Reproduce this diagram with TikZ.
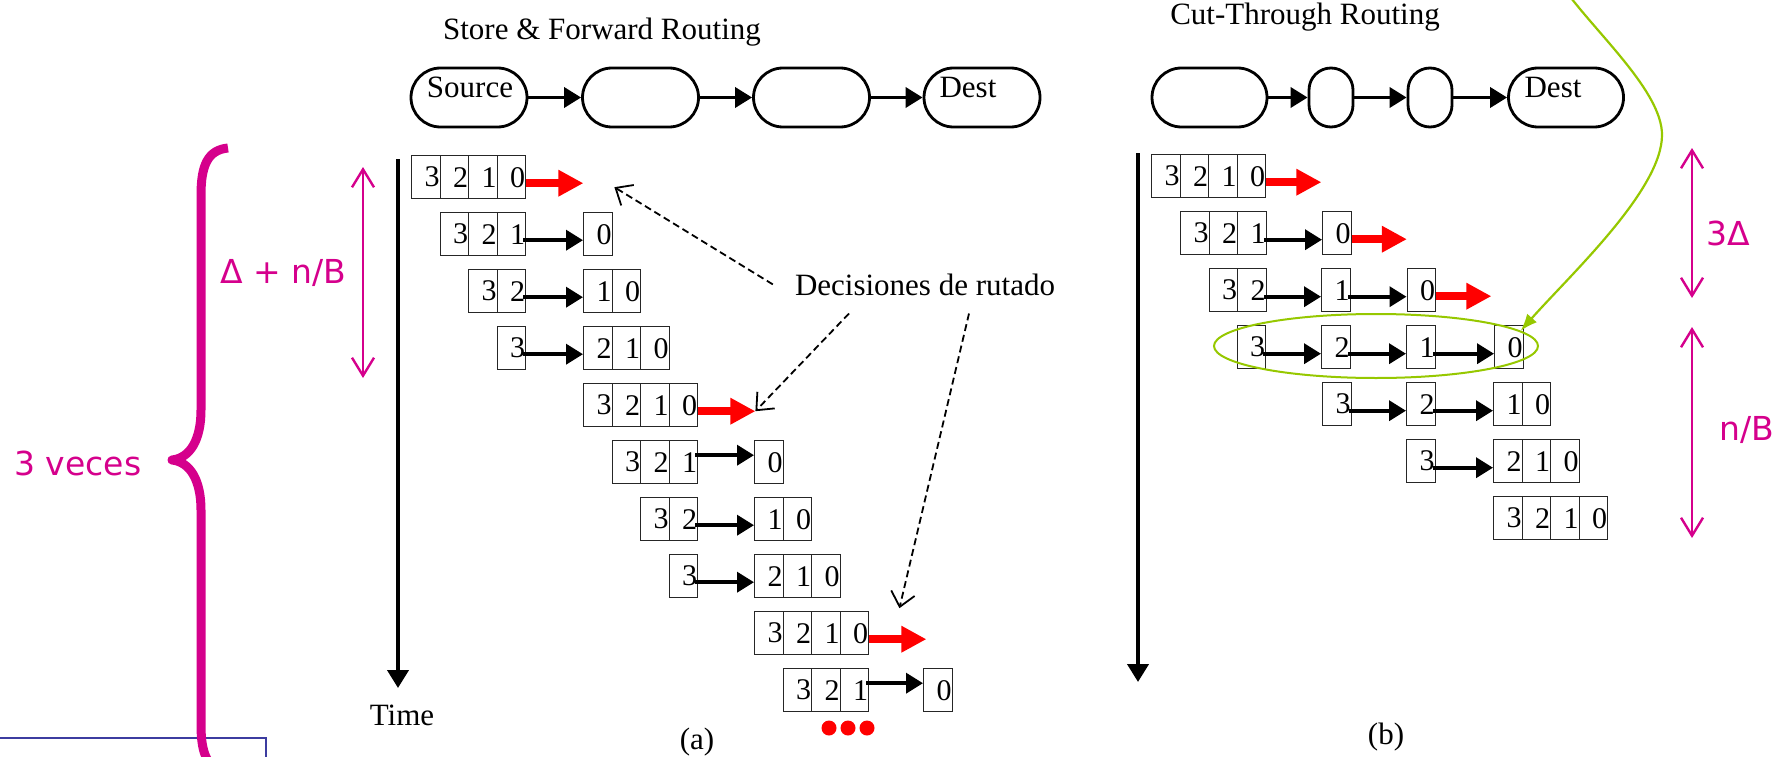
\documentclass[tikz,border=0pt]{standalone}
\usepackage{fontspec}
\setmainfont{Liberation Serif}
\newfontfamily\handfont{DejaVu Sans}
\usetikzlibrary{arrows.meta, calc, shapes.geometric}

\definecolor{brmag}{RGB}{213,0,140}
\definecolor{hlgreen}{RGB}{150,200,0}
\definecolor{boxblue}{RGB}{60,60,160}

\newcommand{\txtfont}{\fontsize{31}{37}\selectfont}
\newcommand{\digfont}{\fontsize{30}{36}\selectfont}
\newcommand{\hndfont}{\handfont\fontsize{33}{40}\selectfont}

% un trozo de paquete: nombre, x izquierda, y superior, digitos
\newcommand{\pkt}[4]{%
  \foreach \dg [count=\cn] in {#4}
    \node[cell] (#1-\cn) at ({#2+(\cn-1)*28.5},#3) {\dg};}

\begin{document}
\begin{tikzpicture}[x=1pt, y=-1pt,
  txt/.style={font=\txtfont, inner sep=2pt},
  hnd/.style={font=\hndfont, text=brmag, inner sep=2pt},
  cell/.style={draw=black!85, line width=1.4pt, minimum width=28.5pt, minimum height=43pt,
    inner sep=0pt, anchor=north west, text width=27.5pt, align=right, font=\digfont},
  stnode/.style={draw, line width=2.8pt, minimum width=116pt, minimum height=59pt,
    rounded corners=29.5pt, inner sep=0pt},
  smnode/.style={stnode, minimum width=44pt, rounded corners=22pt},
  blk/.style={line width=3.6pt, -{Triangle[length=17pt,width=20pt]}},
  redarr/.style={red, line width=8pt, -{Triangle[length=25pt,width=25pt]}},
  timeax/.style={line width=4pt, -{Triangle[length=18pt,width=21pt]}},
  decarr/.style={line width=1.8pt, dash pattern=on 7pt off 4pt,
    -{Straight Barb[length=14pt,width=24pt]}},
  magarr/.style={brmag, line width=2.4pt,
    {Straight Barb[length=18pt,width=22pt]}-{Straight Barb[length=18pt,width=22pt]}},
  hlell/.style={draw=hlgreen, line width=2pt, ellipse, minimum width=324pt,
    minimum height=64pt, inner sep=0pt}]
  \clip (0,0) rectangle (1787,757);

  % recuadro azul (cortado abajo) y llave
  \draw[boxblue, line width=1.6pt] (-5,738) rectangle (266,800);
  \draw[brmag, line width=9pt, line join=round]
    (228,148) .. controls (208,150) and (201,165) .. (201,195) -- (201,410)
    .. controls (201,440) and (190,458) .. (172,460)
    .. controls (190,462) and (201,480) .. (201,510) -- (201,725)
    .. controls (201,755) and (208,770) .. (228,772);
  \node[hnd, anchor=base] (veces) at (78,475) {3 veces};

  % (a) store & forward
  \node[txt, anchor=base] (sft) at (602,40) {Store \& Forward Routing};
  \node[stnode] (src) at (469,97.5) {};
  \node[stnode] (rta) at (640.5,97.5) {};
  \node[stnode] (rtb) at (811.5,97.5) {};
  \node[stnode] (dsta) at (982,97.5) {};
  \node[txt, anchor=base] (srcl) at ([xshift=1pt]src.center) {Source};
  \node[txt, anchor=base] (dstal) at ([xshift=-14pt]dsta.center) {Dest};

  \pkt{a1s}{411}{155}{3,2,1,0}
  \pkt{a2s}{439.5}{212}{3,2,1} \pkt{a2d}{583}{212}{0}
  \pkt{a3s}{468}{269}{3,2}     \pkt{a3d}{583}{269}{1,0}
  \pkt{a4s}{496.5}{326}{3}     \pkt{a4d}{583}{326}{2,1,0}
  \pkt{a5s}{583}{383}{3,2,1,0}
  \pkt{a6s}{611.5}{440}{3,2,1} \pkt{a6d}{754}{440}{0}
  \pkt{a7s}{640}{497}{3,2}     \pkt{a7d}{754}{497}{1,0}
  \pkt{a8s}{668.5}{554}{3}     \pkt{a8d}{754}{554}{2,1,0}
  \pkt{a9s}{754}{611}{3,2,1,0}
  \pkt{a10s}{782.5}{668}{3,2,1} \pkt{a10d}{923}{668}{0}

  \foreach \u/\v in {a2s-3/a2d-1, a3s-2/a3d-1, a4s-1/a4d-1, a7s-2/a7d-1, a8s-1/a8d-1}
    \draw[blk] ([xshift=-3pt,yshift=-6pt]\u.east) -- ([yshift=-6pt]\v.west);
  \foreach \u/\v in {a6s-3/a6d-1, a10s-3/a10d-1}
    \draw[blk] ([xshift=-3pt,yshift=7pt]\u.east) -- ([yshift=7pt]\v.west);
  \foreach \u/\r in {a1s-4/ra1, a5s-4/ra5, a9s-4/ra9} {
    \coordinate (\r) at ([xshift=57pt,yshift=-6pt]\u.east);
    \draw[redarr] ([yshift=-6pt]\u.east) -- (\r);
  }
  \foreach \xx in {829,848,867}
    \fill[red] (\xx,728) circle (7.5);

  % decisiones de rutado
  \node[txt, anchor=base] (dec) at (925,295) {Decisiones de rutado};
  \coordinate (dt1) at ([xshift=31pt,yshift=-4pt]ra1);
  \coordinate (dt3) at ([xshift=-27pt,yshift=31pt]ra9);
  \draw[decarr] ([xshift=-20pt]dec.west) -- (dt1);
  \draw[decarr] ([xshift=-76pt,yshift=-16pt]dec.south) -- (ra5);
  \draw[decarr] ([xshift=44pt,yshift=-16pt]dec.south) -- (dt3);

  % eje de tiempo (a)
  \coordinate (ta0) at (398,159);
  \coordinate (ta1) at (398,688);
  \draw[timeax] (ta0) -- (ta1);
  \node[txt, anchor=base] (tlbl) at (402,725) {Time};
  \node[txt, anchor=base] (capa) at (697,749) {(a)};

  % delta + n/B
  \coordinate (ma0) at (363,167);
  \coordinate (ma1) at (363,378);
  \draw[magarr] (ma0) -- (ma1);
  \node[hnd, anchor=base] (mal) at (283,283) {Δ + n/B};

  % (b) cut-through
  \node[txt, anchor=base] (ctt) at (1305,25) {Cut-Through Routing};
  \node[stnode, minimum width=115pt] (cta) at (1209.5,97.5) {};
  \node[smnode] (ctb) at (1331,97.5) {};
  \node[smnode] (ctc) at (1430,97.5) {};
  \node[stnode, minimum width=115pt] (dstb) at (1566,97.5) {};
  \node[txt, anchor=base] (dstbl) at ([xshift=-13pt]dstb.center) {Dest};
  \foreach \u/\v in {src/rta, rta/rtb, rtb/dsta, cta/ctb, ctb/ctc, ctc/dstb}
    \draw[blk] (\u) -- (\v);

  \pkt{b1s}{1151}{154}{3,2,1,0}
  \pkt{b2s}{1180}{211}{3,2,1}   \pkt{b2a}{1322}{211}{0}
  \pkt{b3s}{1208.5}{268}{3,2}   \pkt{b3a}{1321}{268}{1}  \pkt{b3b}{1406.5}{268}{0}
  \pkt{b4s}{1236.5}{325}{3}     \pkt{b4a}{1321}{325}{2}  \pkt{b4b}{1406}{325}{1}
  \pkt{b4c}{1494}{325}{0}
  \pkt{b5s}{1322}{382}{3}       \pkt{b5a}{1406}{382}{2}  \pkt{b5b}{1493}{382}{1,0}
  \pkt{b6s}{1406}{439}{3}       \pkt{b6a}{1493}{439}{2,1,0}
  \pkt{b7s}{1493}{496}{3,2,1,0}

  \foreach \u/\v in {b2s-3/b2a-1, b3s-2/b3a-1, b3a-1/b3b-1, b4s-1/b4a-1, b4a-1/b4b-1,
      b4b-1/b4c-1, b5s-1/b5a-1, b5a-1/b5b-1, b6s-1/b6a-1}
    \draw[blk] ([xshift=-3pt,yshift=-6.5pt]\u.east) -- ([yshift=-6.5pt]\v.west);
  \foreach \u/\r in {b1s-4/rb1, b2a-1/rb2, b3b-1/rb3} {
    \coordinate (\r) at ([xshift=55pt,yshift=-6pt]\u.east);
    \draw[redarr] ([yshift=-6pt]\u.east) -- (\r);
  }

  % eje de tiempo (b)
  \coordinate (tb0) at (1138,153);
  \coordinate (tb1) at (1138,682);
  \draw[timeax] (tb0) -- (tb1);
  \node[txt, anchor=base] (capb) at (1386,744) {(b)};

  % elipse verde y flecha curva
  \node[hlell] (hl) at (1376,346) {};
  \coordinate (gst) at (1565,-10);
  \draw[hlgreen, line width=2.2pt, -{Latex[length=17pt,width=13pt]}]
    (gst) .. controls (1598,35) and (1662,92) .. (1662,135)
    .. controls (1662,190) and (1570,275) .. (hl.6);

  % 3 delta y n/B
  \coordinate (mb0) at (1692,148);
  \coordinate (mb1) at (1692,298);
  \draw[magarr] (mb0) -- (mb1);
  \node[hnd, anchor=base] (mbl) at (1728,245) {3Δ};
  \coordinate (mc0) at (1692,327);
  \coordinate (mc1) at (1692,538);
  \draw[magarr] (mc0) -- (mc1);
  \node[hnd, anchor=base] (mcl) at (1747,440) {n/B};
\end{tikzpicture}
\end{document}
